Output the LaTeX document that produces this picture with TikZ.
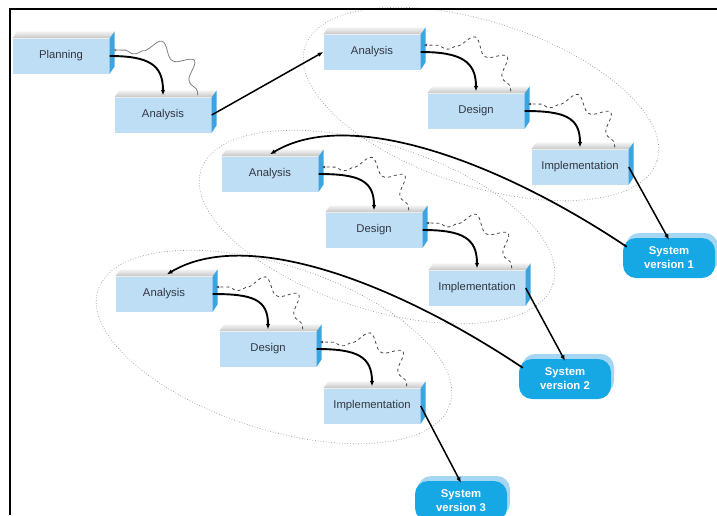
\documentclass[tikz,border=0pt]{standalone}
\usepackage{fontspec}
\setmainfont{Liberation Sans}
\usetikzlibrary{arrows.meta, decorations.pathmorphing, calc, positioning, shadows}

\definecolor{phasefill}{RGB}{190,222,246}
\definecolor{phaseside}{RGB}{60,165,225}
\definecolor{sysfill}{RGB}{22,168,228}
\definecolor{systop}{RGB}{165,214,242}
\definecolor{labelgray}{RGB}{50,55,65}

\begin{document}
\begin{tikzpicture}[
          x=1pt, y=-1pt,
          >={Latex[length=5.5pt,width=4.5pt]},
          phase/.style={rectangle, fill=phasefill, minimum width=97pt, minimum height=35pt,
            inner sep=0pt, font=\fontsize{11.3}{13}\selectfont, text=labelgray},
          sysver/.style={rectangle, rounded corners=13pt, fill=sysfill, minimum width=92pt,
            minimum height=40pt, inner sep=0pt, align=center,
            font=\bfseries\fontsize{11.3}{14}\selectfont, text=white,
            copy shadow={shadow xshift=3pt, shadow yshift=5pt, fill=systop, draw=none}},
          flow/.style={line width=1.9pt, ->},
          feedback/.style={gray!55!black, line width=0.8pt, dashed,
            -{Latex[length=3.5pt,width=3pt]}, decorate,
            decoration={snake, amplitude=7pt, segment length=34pt, pre length=4pt, post length=5pt}},
          loopring/.style={gray!85, dotted, line width=0.7pt},
        ]

        \useasboundingbox (0,0) rectangle (717,515);
        \clip (0,0) rectangle (717,515);

        % the three iterations, each one ringed
        \draw[loopring, rotate around={-18:(481,104)}] (481,104) ellipse [x radius=185, y radius=82];
        \draw[loopring, rotate around={-18:(377,227)}] (377,227) ellipse [x radius=185, y radius=82];
        \draw[loopring, rotate around={-18:(274,347)}] (274,347) ellipse [x radius=185, y radius=82];

        % --- phase blocks ---
        \node[phase] (plan) at (61,56)   {Planning};
        \node[phase] (an0)  at (163,115) {Analysis};

        \node[phase] (an1) at (372,52)  {Analysis};
        \node[phase] (de1) at (476,111) {Design};
        \node[phase] (im1) at (580,167) {Implementation};

        \node[phase] (an2) at (270,174) {Analysis};
        \node[phase] (de2) at (374,230) {Design};
        \node[phase] (im2) at (477,288) {Implementation};

        \node[phase] (an3) at (164,294) {Analysis};
        \node[phase] (de3) at (268,349) {Design};
        \node[phase] (im3) at (372,406) {Implementation};

        % top and side faces of a block
        \newcommand{\blockfaces}[1]{%
          \shade[top color=gray!8, bottom color=gray!45]
            (#1.north west) -- ++(5,-7) -- ($(#1.north east)+(5,-7)$) -- (#1.north east) -- cycle;
          \fill[phaseside] (#1.north east) -- ++(5,-7) -- ++(0,35) -- (#1.south east) -- cycle;
        }
        \foreach \b in {plan,an0,an1,de1,im1,an2,de2,im2,an3,de3,im3} {\blockfaces{\b}}

        % --- released versions ---
        \node[sysver] (sv1) at (669,258) {System\\version 1};
        \node[sysver] (sv2) at (565,379) {System\\version 2};
        \node[sysver] (sv3) at (461,501) {System\\version 3};

        % --- forward steps and wavy feedback ---
        \draw[flow] (plan.east) .. controls +(40,0) and +(0,-30) .. ([yshift=2pt]an0.north);
        \draw[feedback, solid, gray] ([xshift=-14pt,yshift=2pt]an0.north east)
          .. controls +(0,-35) and +(35,0) .. ([xshift=3pt,yshift=6pt]plan.east);

        \foreach \u/\l in {an1/de1, de1/im1, an2/de2, de2/im2, an3/de3, de3/im3} {
          \draw[flow] (\u.east) .. controls +(40,0) and +(0,-30) .. ([yshift=2pt]\l.north);
          \draw[feedback] ([xshift=-14pt,yshift=2pt]\l.north east)
            .. controls +(0,-35) and +(35,0) .. ([xshift=3pt,yshift=7pt]\u.east);
        }

        % straight hand-overs
        \draw[flow, line width=1.5pt] (an0.east) -- (an1.west);
        \draw[flow, line width=1.5pt] (im1.east) -- ([yshift=-2pt]sv1.north);
        \draw[flow, line width=1.5pt] (im2.east) -- ([yshift=-2pt]sv2.north);
        \draw[flow, line width=1.5pt] (im3.east) -- ([yshift=-2pt]sv3.north);

        % each version starts the next iteration
        \draw[flow, line width=1.7pt] ([xshift=4pt,yshift=-9pt]sv1.north west)
          .. controls +(-127,-85) and +(80,-48) .. ([yshift=2pt]an2.north);
        \draw[flow, line width=1.7pt] ([xshift=4pt,yshift=-9pt]sv2.north west)
          .. controls +(-127,-85) and +(80,-48) .. ([xshift=3pt,yshift=2pt]an3.north);

        % frame
        \draw[line width=1.4pt] (10,515) -- (10,9) -- (717,9);

        \end{tikzpicture}
\end{document}
